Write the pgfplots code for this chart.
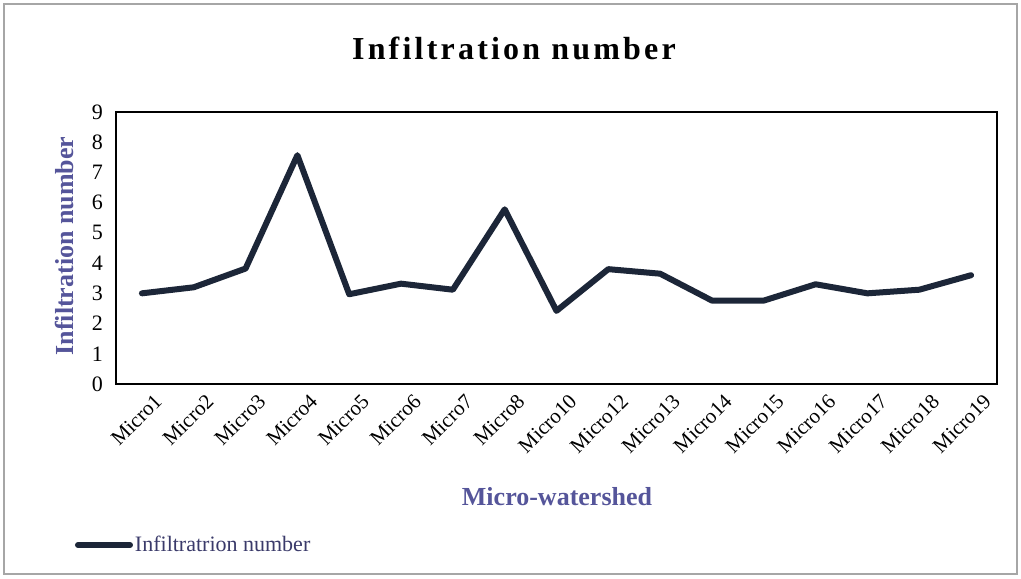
\documentclass[border=0pt]{standalone}
\usepackage{pgfplots}
\pgfplotsset{compat=1.18}
\usepackage{fontspec}
\setmainfont{Liberation Serif}
\definecolor{linecol}{HTML}{1C2638}
\definecolor{labcol}{HTML}{55559A}
\definecolor{legcol}{HTML}{3A3A6A}
\begin{document}
\begin{tikzpicture}[x=1pt,y=1pt]
\fill[white] (0,0) rectangle (510.5,289);
\draw[gray!70, line width=0.8pt] (2,2) rectangle (508.5,287);
\begin{axis}[
  at={(58pt,97pt)}, anchor=south west,
  scale only axis, width=440.5pt, height=136pt,
  xmin=-0.5, xmax=16.5, ymin=0, ymax=9,
  xtick={0,...,16},
  xticklabels={Micro1,Micro2,Micro3,Micro4,Micro5,Micro6,Micro7,Micro8,Micro10,Micro12,Micro13,Micro14,Micro15,Micro16,Micro17,Micro18,Micro19},
  ytick={0,...,9},
  major tick length=0pt,
  /pgf/number format/assume math mode=true,
  yticklabel style={font=\fontsize{11}{12}\selectfont, xshift=-3pt},
  xticklabel style={font=\fontsize{10.5}{12}\selectfont, rotate=45, anchor=north east, inner sep=1pt, yshift=-6pt, xshift=2pt},
  axis line style={line width=0.6pt},
  legend style={at={(-0.047,-0.592)}, anchor=west, draw=none, fill=none,
    font=\fontsize{11}{12}\selectfont\color{legcol}, inner sep=0pt,
    nodes={inner sep=1pt}},
  legend cell align=left,
  legend image code/.code={\draw[#1] (0pt,0pt) -- (26pt,0pt);},
]
\addplot[linecol, line width=3pt, line join=round, line cap=round] coordinates {
(0,3.0) (1,3.2) (2,3.82) (3,7.57) (4,2.97) (5,3.32) (6,3.12) (7,5.78) (8,2.42)
(9,3.8) (10,3.65) (11,2.76) (12,2.76) (13,3.3) (14,3.0) (15,3.12) (16,3.6)};
\addlegendentry{Infiltratrion number}
\end{axis}
\node[font=\fontsize{16}{19}\selectfont\bfseries\addfontfeatures{LetterSpace=10}] at (257,265) {Infiltration number};
\node[rotate=90, font=\fontsize{13}{15}\selectfont\bfseries, text=labcol] at (32.5,166) {Infiltration number};
\node[font=\fontsize{13}{15}\selectfont\bfseries, text=labcol] at (278.5,40.5) {Micro-watershed};
\end{tikzpicture}
\end{document}
